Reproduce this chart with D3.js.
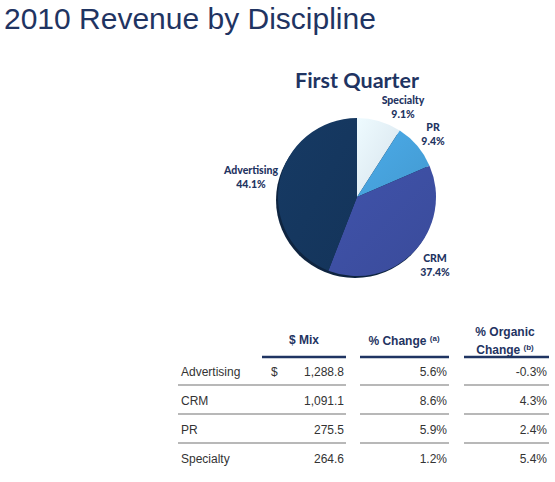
<!DOCTYPE html>
<html><head><meta charset="utf-8">
<script src="https://cdn.jsdelivr.net/npm/d3@7"></script>
<style>body{margin:0;background:#fff}svg{display:block}</style>
</head><body>
<script>
const categories = ["Specialty","PR","CRM","Advertising"];
const shares = [9.1, 9.4, 37.4, 44.1];
const colors = ["#e2eef8","#47a2dd","#3d4fa2","#15375f"];
const rows = ["Advertising","CRM","PR","Specialty"];
const mix = ["1,288.8","1,091.1","275.5","264.6"];
const pctChange = ["5.6%","8.6%","5.9%","1.2%"];
const organic = ["-0.3%","4.3%","2.4%","5.4%"];

const W=555,H=482;
const svg=d3.select("body").append("svg").attr("width",W).attr("height",H);
const navy="#1f3462";

svg.append("text").attr("x",4).attr("y",29).attr("font-family","Liberation Sans, Arial")
  .attr("font-size",30).attr("fill",navy).text("2010 Revenue by Discipline");

svg.append("text").attr("x",357).attr("y",88).attr("text-anchor","middle")
  .attr("font-family","Lato, Open Sans").attr("font-weight","bold").attr("font-size",21.5)
  .attr("fill",navy).text("First Quarter");

// pie
const cx=357,cy=197,r=79;
const defs=svg.append("defs");
colors.forEach((c,i)=>{
  const g=defs.append("linearGradient").attr("id","g"+i).attr("x1","0").attr("x2","1").attr("y1","0").attr("y2","1");
  g.append("stop").attr("offset","0").attr("stop-color",d3.color(c).brighter(0.15));
  g.append("stop").attr("offset","1").attr("stop-color",d3.color(c).darker(0.15));
});
const pie=d3.pie().sort(null).value(d=>d)(shares);
const arc=d3.arc().innerRadius(0).outerRadius(r);
const pg=svg.append("g").attr("transform",`translate(${cx},${cy})`);
pg.append("ellipse").attr("cx",-2).attr("cy",3).attr("rx",r).attr("ry",r-1).attr("fill","#0e2440");
pg.selectAll("path").data(pie).join("path").attr("d",arc)
  .attr("fill",(d,i)=>`url(#g${i})`);

const labelPos=[[403,104],[433,131],[435,262],[251,174]];
const lg=svg.append("g").attr("font-family","Lato, Open Sans").attr("font-weight","900")
  .attr("font-size",10.5).attr("fill",navy).attr("text-anchor","middle");
categories.forEach((c,i)=>{
  const t=lg.append("text").attr("x",labelPos[i][0]).attr("y",labelPos[i][1]);
  t.append("tspan").attr("x",labelPos[i][0]).text(c);
  t.append("tspan").attr("x",labelPos[i][0]).attr("dy",13.5).text(shares[i].toFixed(1)+"%");
});

// table
const tf="Liberation Sans, Arial";
const hg=svg.append("g").attr("font-family",tf).attr("font-weight","bold").attr("font-size",12).attr("fill",navy).attr("text-anchor","middle");
hg.append("text").attr("x",304).attr("y",344).text("$ Mix");
const h2=hg.append("text").attr("x",404).attr("y",345);
h2.append("tspan").text("% Change ");
h2.append("tspan").attr("font-size",8).attr("dy",-4).text("(a)");
hg.append("text").attr("x",505).attr("y",336).text("% Organic");
const h3=hg.append("text").attr("x",505).attr("y",354);
h3.append("tspan").text("Change ");
h3.append("tspan").attr("font-size",8).attr("dy",-4).text("(b)");

const segs=[[262,346],[360,449],[464,549]];
segs.forEach(s=>svg.append("line").attr("x1",s[0]).attr("x2",s[1]).attr("y1",357).attr("y2",357)
  .attr("stroke",navy).attr("stroke-width",2.5));
const gsegs=[[178,346],[360,449],[464,549]];
const y=d3.scalePoint().domain(rows).range([376,463]);
rows.slice(0,3).forEach(rw=>gsegs.forEach(s=>svg.append("line").attr("x1",s[0]).attr("x2",s[1])
  .attr("y1",y(rw)+9).attr("y2",y(rw)+9).attr("stroke","#b8b8b8").attr("stroke-width",2)));

const bg=svg.append("g").attr("font-family",tf).attr("font-size",12).attr("fill","#333");
rows.forEach((rw,i)=>{
  bg.append("text").attr("x",181).attr("y",y(rw)).text(rw);
  bg.append("text").attr("x",344).attr("y",y(rw)).attr("text-anchor","end").text(mix[i]);
  bg.append("text").attr("x",447).attr("y",y(rw)).attr("text-anchor","end").text(pctChange[i]);
  bg.append("text").attr("x",547).attr("y",y(rw)).attr("text-anchor","end").text(organic[i]);
});
bg.append("text").attr("x",271).attr("y",y(rows[0])).text("$");
</script>
</body></html>
